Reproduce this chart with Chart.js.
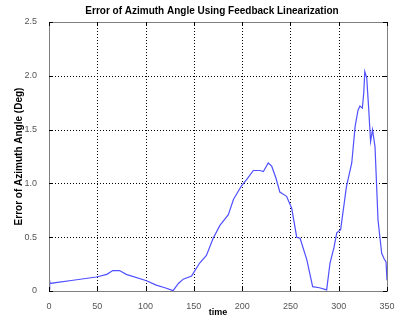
<!DOCTYPE html>
<html><head><meta charset="utf-8">
<script src="https://cdn.jsdelivr.net/npm/chart.js@4/dist/chart.umd.min.js"></script>
<style>html,body{margin:0;padding:0;background:#fff}#w{width:398px;height:320px}</style>
</head><body><div id="w"><canvas id="c"></canvas></div>
<script>
const timeValues = [0, 0.5, 1, 25, 49, 60, 66, 73, 80, 101, 111, 120, 128.5, 134, 139, 147.7, 156, 163, 170, 177, 185.7, 191, 199.5, 205, 211.6, 218.5, 222, 227, 230.6, 235, 239, 246, 251.3, 256.5, 260, 267, 273, 280, 287.5, 291, 295, 298, 302, 308, 313.5, 317, 320, 322, 324.5, 326, 327, 329, 331, 333, 335, 337.6, 340.7, 344.5, 347, 349, 350];
const errorValues = [0.02, 0.1, 0.07, 0.1, 0.13, 0.155, 0.19, 0.19, 0.155, 0.095, 0.055, 0.03, 0.003, 0.07, 0.11, 0.14, 0.26, 0.33, 0.49, 0.61, 0.71, 0.85, 0.98, 1.04, 1.12, 1.12, 1.11, 1.19, 1.16, 1.05, 0.92, 0.88, 0.77, 0.50, 0.49, 0.29, 0.04, 0.03, 0.01, 0.26, 0.40, 0.54, 0.57, 0.97, 1.19, 1.53, 1.68, 1.72, 1.70, 1.85, 2.04, 1.98, 1.70, 1.39, 1.5, 1.34, 0.66, 0.35, 0.30, 0.27, 0.1];
const xTicks = [0, 50, 100, 150, 200, 250, 300, 350];
const yTicks = [0, 0.5, 1, 1.5, 2, 2.5];
const titleText = 'Error of Azimuth Angle Using Feedback Linearization';

const points = timeValues.map((t, i) => ({x: t, y: errorValues[i]}));

const gridPlugin = {
  id: 'dotgrid',
  beforeDatasetsDraw(chart) {
    const {ctx, chartArea: a, scales: {x, y}} = chart;
    ctx.save();
    ctx.strokeStyle = '#000';
    ctx.lineWidth = 1;
    ctx.setLineDash([1, 2]);
    ctx.beginPath();
    xTicks.slice(1, -1).forEach(v => {
      const px = Math.round(x.getPixelForValue(v)) + 0.5;
      ctx.moveTo(px, a.top); ctx.lineTo(px, a.bottom);
    });
    yTicks.slice(1, -1).forEach(v => {
      const py = Math.round(y.getPixelForValue(v)) + 0.5;
      ctx.moveTo(a.left, py); ctx.lineTo(a.right, py);
    });
    ctx.stroke();
    ctx.restore();
  },
  afterDraw(chart) {
    const {ctx, chartArea: a, scales: {x, y}} = chart;
    ctx.save();
    ctx.strokeStyle = '#7f7f7f';
    ctx.lineWidth = 1;
    ctx.strokeRect(Math.round(a.left) + 0.5, Math.round(a.top) + 0.5, Math.round(a.right - a.left), Math.round(a.bottom - a.top));
    ctx.strokeStyle = '#000';
    ctx.beginPath();
    xTicks.forEach(v => {
      const px = Math.round(x.getPixelForValue(v)) + 0.5;
      ctx.moveTo(px, a.bottom); ctx.lineTo(px, a.bottom - 4);
      ctx.moveTo(px, a.top); ctx.lineTo(px, a.top + 4);
    });
    yTicks.forEach(v => {
      const py = Math.round(y.getPixelForValue(v)) + 0.5;
      ctx.moveTo(a.left, py); ctx.lineTo(a.left + 4, py);
      ctx.moveTo(a.right, py); ctx.lineTo(a.right - 4, py);
    });
    ctx.stroke();
    ctx.fillStyle = '#000';
    ctx.font = 'bold 10px "Liberation Sans"';
    ctx.textAlign = 'center';
    ctx.textBaseline = 'middle';
    ctx.fillText(titleText, 212, 11);
    ctx.restore();
  }
};

new Chart(document.getElementById('c'), {
  type: 'line',
  data: {
    datasets: [{
      data: points,
      borderColor: 'rgb(80,80,255)',
      borderWidth: 1.2,
      pointRadius: 0,
      tension: 0,
      fill: false
    }]
  },
  options: {
    responsive: true,
    maintainAspectRatio: false,
    animation: false,
    layout: {padding: {left: 13, right: 11, top: 22, bottom: 2}},
    plugins: {
      legend: {display: false},
      tooltip: {enabled: false},
      title: {display: false}
    },
    scales: {
      x: {
        type: 'linear',
        min: 0, max: 350,
        afterBuildTicks: s => { s.ticks = xTicks.map(v => ({value: v})); },
        afterFit: s => { s.height = 27; },
        grid: {display: false},
        border: {display: false},
        ticks: {color: '#555', font: {family: 'Liberation Sans', size: 9}, padding: 2, maxRotation: 0},
        title: {display: true, text: 'time', color: '#000', font: {family: 'Liberation Sans', size: 9, weight: 'bold'}, padding: {top: 0, bottom: 0}}
      },
      y: {
        type: 'linear',
        min: 0, max: 2.5,
        afterBuildTicks: s => { s.ticks = yTicks.map(v => ({value: v})); },
        afterFit: s => { s.width = 36; },
        grid: {display: false},
        border: {display: false},
        ticks: {color: '#555', font: {family: 'Liberation Sans', size: 9}, padding: 4},
        title: {display: true, text: 'Error of Azimuth Angle (Deg)', color: '#000', font: {family: 'Liberation Sans', size: 10, weight: 'bold'}, padding: {top: 0, bottom: 5}}
      }
    }
  },
  plugins: [gridPlugin]
});
</script>
</body></html>
